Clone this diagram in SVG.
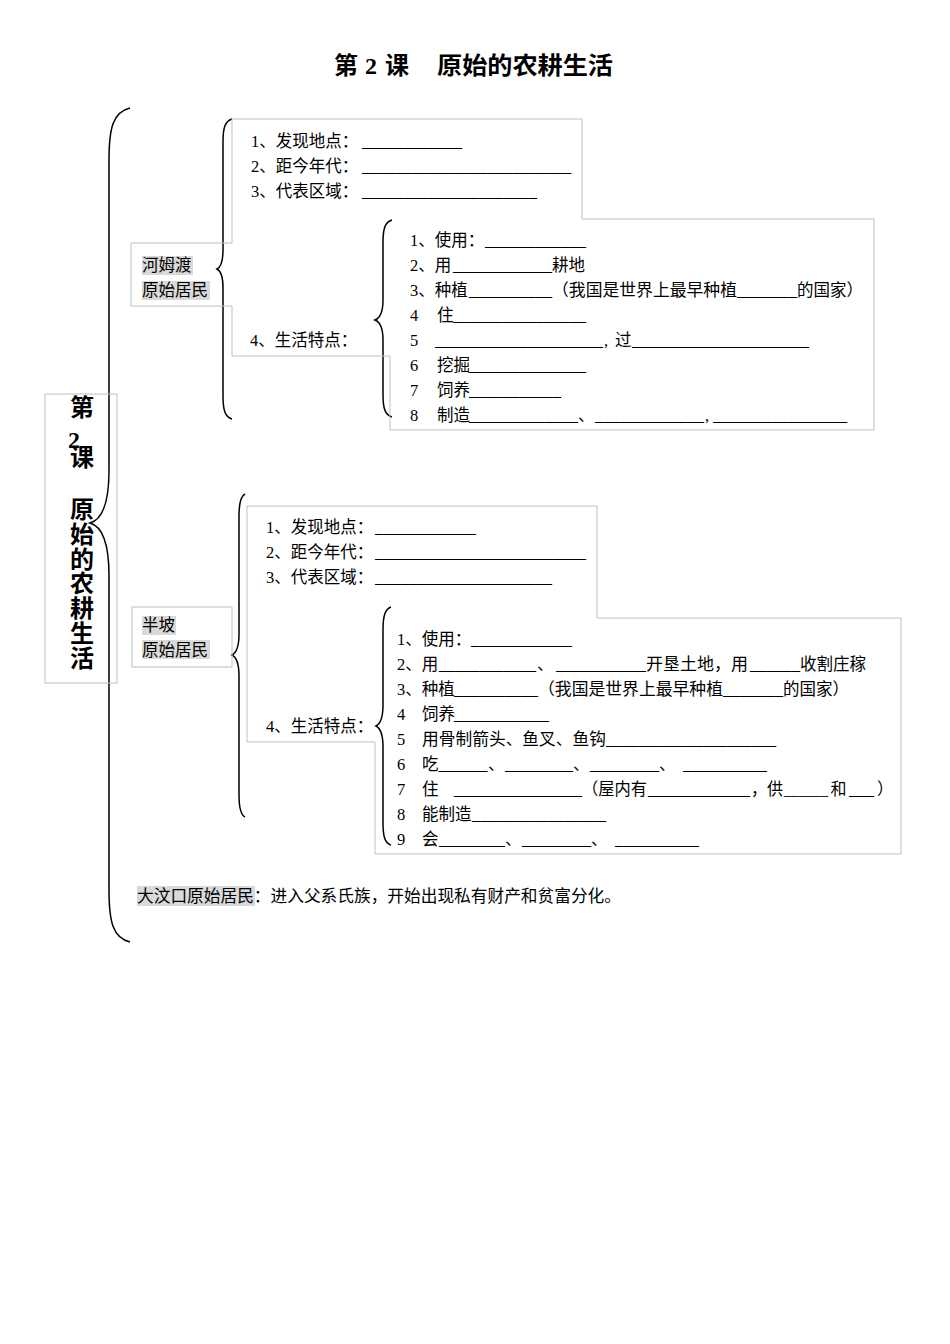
<svg xmlns="http://www.w3.org/2000/svg" width="950" height="1344" viewBox="0 0 950 1344">
<style>
.t{font-family:"Liberation Serif","Noto Sans CJK SC",serif;font-size:16.5px;fill:#000}
.b{font-family:"Liberation Serif","Noto Sans CJK SC",serif;font-weight:bold;fill:#000}
.box{fill:none;stroke:#bfbfbf;stroke-width:1}
.br{fill:none;stroke:#000;stroke-width:1.5}
.hl{fill:#d9d9d9}
</style>
<rect width="950" height="1344" fill="#fff"/>

<g id="title">
<text class="b" font-size="24" x="334" y="74">第</text>
<text class="b" font-size="24" x="365" y="74">2</text>
<text class="b" font-size="24" x="385" y="74">课</text>
<text class="b" font-size="24" x="437" y="74" textLength="176" lengthAdjust="spacingAndGlyphs">原始的农耕生活</text>
</g>

<g id="connectors">
<path class="br" d="M130,108 C113,112 109,128 109,160 L109,470 C109,505 101,520 90,523 C101,526 109,541 109,576 L109,890 C109,922 113,938 130,942"/>
<path class="br" d="M232,119 C225,121 223,128 223,142 L223,250 C223,262 221,267 217,269 C221,271 223,276 223,288 L223,396 C223,410 225,417 232,419"/>
<path class="br" d="M392,220 C385,222 383,229 383,242 L383,300 C383,312 380,318 375,320 C380,322 383,328 383,340 L383,395 C383,408 385,415 392,417"/>
<path class="br" d="M245,494 C241,496 239,503 239,516 L239,634 C239,646 236,653 232,655 C236,657 239,664 239,676 L239,795 C239,808 241,815 245,817"/>
<path class="br" d="M391,607 C385,609 383,616 383,630 L383,705 C383,718 380,724 376,726 C380,728 383,734 383,747 L383,823 C383,837 385,843 391,845"/>
</g>

<g id="lesson-box">
<rect class="box" x="45" y="394" width="72" height="289"/>
<text class="b" font-size="24" text-anchor="middle" x="82" y="416">第</text>
<text class="b" font-size="24" x="68" y="448">2</text>
<text class="b" font-size="24" text-anchor="middle" x="82" y="466">课</text>
<text class="b" font-size="24" text-anchor="middle" x="82" y="518">原</text>
<text class="b" font-size="24" text-anchor="middle" x="82" y="543">始</text>
<text class="b" font-size="24" text-anchor="middle" x="82" y="568">的</text>
<text class="b" font-size="24" text-anchor="middle" x="82" y="592">农</text>
<text class="b" font-size="24" text-anchor="middle" x="82" y="617">耕</text>
<text class="b" font-size="24" text-anchor="middle" x="82" y="642">生</text>
<text class="b" font-size="24" text-anchor="middle" x="82" y="667">活</text>
</g>

<g id="hemudu">
<path class="box" d="M232,243 V119 H582 V219 H874 V430 H390 V356 H232 V306 H131 V243 H232"/>
<rect class="hl" x="142" y="256" width="51" height="19"/>
<rect class="hl" x="142" y="281" width="68" height="19"/>
<text class="t" x="142" y="271">河姆渡</text>
<text class="t" x="142" y="296">原始居民</text>

<text class="t" x="251" y="147">1、发现地点：</text>
<text class="t" x="362" y="147" textLength="100" lengthAdjust="spacingAndGlyphs">____________</text>
<text class="t" x="251" y="172">2、距今年代：</text>
<text class="t" x="362" y="172" textLength="209" lengthAdjust="spacingAndGlyphs">_________________________</text>
<text class="t" x="251" y="197">3、代表区域：</text>
<text class="t" x="362" y="197" textLength="175" lengthAdjust="spacingAndGlyphs">_____________________</text>

<text class="t" x="250" y="346">4、生活特点：</text>

<text class="t" x="410" y="246">1、使用：</text>
<text class="t" x="485" y="246" textLength="101" lengthAdjust="spacingAndGlyphs">____________</text>
<text class="t" x="410" y="271">2、用</text>
<text class="t" x="453" y="271" textLength="99" lengthAdjust="spacingAndGlyphs">____________</text>
<text class="t" x="552" y="271">耕地</text>
<text class="t" x="410" y="296">3、种植</text>
<text class="t" x="469" y="296" textLength="83" lengthAdjust="spacingAndGlyphs">__________</text>
<text class="t" x="552" y="296" textLength="185" lengthAdjust="spacingAndGlyphs">（我国是世界上最早种植</text>
<text class="t" x="737" y="296" textLength="60" lengthAdjust="spacingAndGlyphs">_______</text>
<text class="t" x="797" y="296">的国家）</text>
<text class="t" x="410" y="321">4</text>
<text class="t" x="437" y="321">住</text>
<text class="t" x="453" y="321" textLength="133" lengthAdjust="spacingAndGlyphs">________________</text>
<text class="t" x="410" y="346">5</text>
<text class="t" x="435" y="346" textLength="168" lengthAdjust="spacingAndGlyphs">____________________</text>
<text class="t" x="604" y="346">,</text>
<text class="t" x="615" y="346">过</text>
<text class="t" x="632" y="346" textLength="177" lengthAdjust="spacingAndGlyphs">_____________________</text>
<text class="t" x="410" y="371">6</text>
<text class="t" x="437" y="371">挖掘</text>
<text class="t" x="469" y="371" textLength="117" lengthAdjust="spacingAndGlyphs">______________</text>
<text class="t" x="410" y="396">7</text>
<text class="t" x="437" y="396">饲养</text>
<text class="t" x="469" y="396" textLength="92" lengthAdjust="spacingAndGlyphs">___________</text>
<text class="t" x="410" y="421">8</text>
<text class="t" x="437" y="421">制造</text>
<text class="t" x="469" y="421" textLength="109" lengthAdjust="spacingAndGlyphs">_____________</text>
<text class="t" x="578" y="421">、</text>
<text class="t" x="595" y="421" textLength="109" lengthAdjust="spacingAndGlyphs">_____________</text>
<text class="t" x="705" y="421">,</text>
<text class="t" x="713" y="421" textLength="134" lengthAdjust="spacingAndGlyphs">________________</text>
</g>

<g id="banpo">
<path class="box" d="M247,742 V506 H597 V618 H901 V854 H375 V742 H247"/>
<rect class="box" x="132" y="607" width="100" height="60"/>
<rect class="hl" x="142" y="616" width="34" height="19"/>
<rect class="hl" x="142" y="640" width="68" height="19"/>
<text class="t" x="142" y="631">半坡</text>
<text class="t" x="142" y="656">原始居民</text>

<text class="t" x="266" y="533">1、发现地点：</text>
<text class="t" x="375" y="533" textLength="101" lengthAdjust="spacingAndGlyphs">____________</text>
<text class="t" x="266" y="558">2、距今年代：</text>
<text class="t" x="375" y="558" textLength="211" lengthAdjust="spacingAndGlyphs">_________________________</text>
<text class="t" x="266" y="583">3、代表区域：</text>
<text class="t" x="375" y="583" textLength="177" lengthAdjust="spacingAndGlyphs">_____________________</text>

<text class="t" x="266" y="732">4、生活特点：</text>

<text class="t" x="397" y="645">1、使用：</text>
<text class="t" x="471" y="645" textLength="101" lengthAdjust="spacingAndGlyphs">____________</text>
<text class="t" x="397" y="670">2、用</text>
<text class="t" x="439" y="670" textLength="97" lengthAdjust="spacingAndGlyphs">____________</text>
<text class="t" x="537" y="670">、</text>
<text class="t" x="556" y="670" textLength="90" lengthAdjust="spacingAndGlyphs">___________</text>
<text class="t" x="646" y="670" textLength="102" lengthAdjust="spacingAndGlyphs">开垦土地，用</text>
<text class="t" x="750" y="670" textLength="50" lengthAdjust="spacingAndGlyphs">______</text>
<text class="t" x="800" y="670">收割庄稼</text>
<text class="t" x="397" y="695">3、种植</text>
<text class="t" x="454" y="695" textLength="84" lengthAdjust="spacingAndGlyphs">__________</text>
<text class="t" x="538" y="695" textLength="185" lengthAdjust="spacingAndGlyphs">（我国是世界上最早种植</text>
<text class="t" x="723" y="695" textLength="60" lengthAdjust="spacingAndGlyphs">_______</text>
<text class="t" x="783" y="695">的国家）</text>
<text class="t" x="397" y="720">4</text>
<text class="t" x="422" y="720">饲养</text>
<text class="t" x="454" y="720" textLength="95" lengthAdjust="spacingAndGlyphs">____________</text>
<text class="t" x="397" y="745">5</text>
<text class="t" x="422" y="745" textLength="184" lengthAdjust="spacingAndGlyphs">用骨制箭头、鱼叉、鱼钩</text>
<text class="t" x="606" y="745" textLength="170" lengthAdjust="spacingAndGlyphs">_____________________</text>
<text class="t" x="397" y="770">6</text>
<text class="t" x="422" y="770">吃</text>
<text class="t" x="438.5" y="770" textLength="49" lengthAdjust="spacingAndGlyphs">______</text>
<text class="t" x="488" y="770">、</text>
<text class="t" x="505" y="770" textLength="68" lengthAdjust="spacingAndGlyphs">________</text>
<text class="t" x="573" y="770">、</text>
<text class="t" x="590" y="770" textLength="69" lengthAdjust="spacingAndGlyphs">________</text>
<text class="t" x="659" y="770">、</text>
<text class="t" x="683" y="770" textLength="84" lengthAdjust="spacingAndGlyphs">__________</text>
<text class="t" x="397" y="795">7</text>
<text class="t" x="422" y="795">住</text>
<text class="t" x="454" y="795" textLength="128" lengthAdjust="spacingAndGlyphs">________________</text>
<text class="t" x="582" y="795" textLength="65" lengthAdjust="spacingAndGlyphs">（屋内有</text>
<text class="t" x="648" y="795" textLength="102" lengthAdjust="spacingAndGlyphs">____________</text>
<text class="t" x="751" y="795" textLength="32" lengthAdjust="spacingAndGlyphs">，供</text>
<text class="t" x="784" y="795" textLength="44" lengthAdjust="spacingAndGlyphs">______</text>
<text class="t" x="830.5" y="795" textLength="16" lengthAdjust="spacingAndGlyphs">和</text>
<text class="t" x="849" y="795" textLength="25" lengthAdjust="spacingAndGlyphs">___</text>
<text class="t" x="877" y="795">）</text>
<text class="t" x="397" y="820">8</text>
<text class="t" x="422" y="820">能制造</text>
<text class="t" x="472" y="820" textLength="134" lengthAdjust="spacingAndGlyphs">________________</text>
<text class="t" x="397" y="845">9</text>
<text class="t" x="422" y="845">会</text>
<text class="t" x="439" y="845" textLength="66" lengthAdjust="spacingAndGlyphs">________</text>
<text class="t" x="505" y="845">、</text>
<text class="t" x="522" y="845" textLength="69" lengthAdjust="spacingAndGlyphs">________</text>
<text class="t" x="591" y="845">、</text>
<text class="t" x="615" y="845" textLength="84" lengthAdjust="spacingAndGlyphs">__________</text>
</g>

<g id="dawenkou">
<rect class="hl" x="137" y="886" width="118" height="20"/>
<text class="t" x="137" y="902" textLength="484" lengthAdjust="spacingAndGlyphs">大汶口原始居民：进入父系氏族，开始出现私有财产和贫富分化。</text>
</g>
</svg>
